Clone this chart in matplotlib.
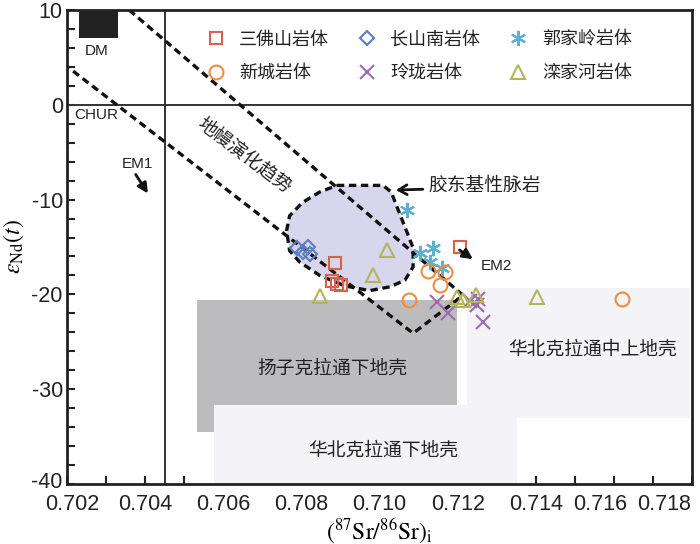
import matplotlib
matplotlib.use("Agg")
import matplotlib.pyplot as plt
from matplotlib.patches import Polygon, Rectangle
from matplotlib.transforms import ScaledTranslation

plt.rcParams['font.family'] = ['Liberation Sans', 'Noto Sans CJK SC', 'DejaVu Sans']
plt.rcParams['mathtext.fontset'] = 'stix'
plt.rcParams['axes.unicode_minus'] = False

# ---- sample data: (87Sr/86Sr)i and eNd(t) ----
sanfoshan_sr = [0.70886, 0.70878, 0.70891, 0.70901, 0.71206]
sanfoshan_nd = [-16.7, -18.6, -18.9, -19.0, -15.05]

changshannan_sr = [0.70790, 0.70816, 0.70821, 0.70803]
changshannan_nd = [-15.15, -15.05, -15.7, -15.55]

guojialing_sr = [0.71070, 0.71104, 0.71137, 0.71129, 0.71160]
guojialing_nd = [-11.05, -15.6, -15.15, -16.6, -17.25]

xincheng_sr = [0.71124, 0.71168, 0.71155, 0.71075, 0.71620]
xincheng_nd = [-17.5, -17.6, -19.05, -20.55, -20.45]

linglong_sr = [0.71147, 0.71176, 0.71232, 0.71253, 0.71250, 0.71265]
linglong_nd = [-20.75, -22.0, -20.65, -20.45, -21.15, -22.95]

luanjiahe_sr = [0.70847, 0.70983, 0.71019, 0.71199, 0.71214, 0.71247, 0.71404]
luanjiahe_nd = [-20.2, -18.0, -15.35, -20.3, -20.6, -20.1, -20.3]

# ---- reference fields ----
dike_sr = [0.70891, 0.71009, 0.71030, 0.71047, 0.71070, 0.71086, 0.71086,
           0.71065, 0.71027, 0.70975, 0.70911, 0.70847, 0.70796, 0.70770,
           0.70762, 0.70770, 0.70803, 0.70847]
dike_nd = [-8.5, -8.5, -9.2, -11.0, -13.4, -15.1, -17.1,
           -18.5, -19.2, -19.6, -19.1, -18.0, -16.6, -15.4,
           -13.3, -11.7, -10.3, -9.2]

mantle_sr = [0.70359, 0.71214, 0.71086, 0.70200]
mantle_nd = [10.0, -20.1, -24.1, 4.05]

dm_box = (0.7023, 0.7033, 7.0, 10.0)             # x0, x1, y0, y1
yangtze_lc = (0.70534, 0.71199, -34.55, -20.55)
ncc_lc = (0.70577, 0.71353, -40.0, -31.7)
ncc_muc = (0.71224, 0.71795, -33.0, -19.3)

chur_nd = 0.0
em1_sr = 0.7045

x_ticks = [0.702, 0.704, 0.706, 0.708, 0.710, 0.712, 0.714, 0.716, 0.718]
x_ticklabels = ['0.702', '0.704', '0.706', '0.708', '0.710', '0.712', '0.714', '0.716', '0.718']
y_ticks = [10, 0, -10, -20, -30, -40]

fig = plt.figure(figsize=(7.0, 5.44), dpi=100)
ax = fig.add_axes([0.0957, 0.1103, 0.8929, 0.8713])
ax.set_xlim(0.702, 0.718)
ax.set_ylim(-40, 10)

# crust fields
def box(b, color, z):
    x0, x1, y0, y1 = b
    ax.add_patch(Rectangle((x0, y0), x1 - x0, y1 - y0, facecolor=color,
                           edgecolor='none', zorder=z))

box(yangtze_lc, '#bcbcbe', 1)
box(ncc_lc, '#f3f3f8', 2)
box(ncc_muc, '#f3f3f8', 2)
box(dm_box, '#222222', 3)

# reference lines
ax.axhline(chur_nd, color='#333333', lw=1.4, zorder=3)
ax.axvline(em1_sr, color='#333333', lw=1.4, zorder=3)

# basic dike field
ax.add_patch(Polygon(list(zip(dike_sr, dike_nd)), closed=True,
                     facecolor='#d7d6ec', edgecolor='#111111', lw=2.4,
                     linestyle=(0, (2.2, 1.4)), zorder=4))

# mantle evolution trend
ax.plot(mantle_sr, mantle_nd, color='#111111', lw=2.4,
        linestyle=(0, (2.2, 1.4)), zorder=5)

# samples
mk = dict(linestyle='none', markerfacecolor='none', markersize=9,
          markeredgewidth=1.5, zorder=6)
h1, = ax.plot(sanfoshan_sr, sanfoshan_nd, marker='s', color='#d9604a', label='三佛山岩体', **mk)
h2, = ax.plot(changshannan_sr, changshannan_nd, marker='D', color='#5a7dbf', label='长山南岩体',
              **{**mk, 'markersize': 7.5})
h3, = ax.plot(guojialing_sr, guojialing_nd, marker=(6, 2, 0), color='#5bb0d0', label='郭家岭岩体',
              **{**mk, 'markersize': 11})
h4, = ax.plot(xincheng_sr, xincheng_nd, marker='o', color='#f28c3c', label='新城岩体',
              **{**mk, 'markersize': 10})
h5, = ax.plot(linglong_sr, linglong_nd, marker='x', color='#9d6cb0', label='玲珑岩体',
              **{**mk, 'markersize': 10})
h6, = ax.plot(luanjiahe_sr, luanjiahe_nd, marker='^', color='#b3b55a', label='滦家河岩体',
              **{**mk, 'markersize': 10})

leg = ax.legend(handles=[h1, h4, h2, h5, h3, h6], ncol=3, frameon=False,
                loc='upper left', bbox_to_anchor=(0.203, 0.985),
                fontsize=13, handlelength=0.8, handletextpad=0.9,
                columnspacing=1.7, labelspacing=0.9, borderpad=0.3)
for t in leg.get_texts():
    t.set_color('#222222')

# annotations
ax.text(0.70277, 5.7, 'DM', fontsize=11, ha='center', va='center', color='#222222', zorder=7)
ax.text(0.70274, -1.1, 'CHUR', fontsize=11, ha='center', va='center', color='#222222', zorder=7)
ax.text(0.70380, -6.2, 'EM1', fontsize=11, ha='center', va='center', color='#222222', zorder=7)
ax.annotate('', xy=(0.70411, -9.6), xytext=(0.70372, -7.1),
            arrowprops=dict(arrowstyle='-|>,head_length=0.6,head_width=0.3',
                            color='#111111', lw=2.0), zorder=7)
ax.text(0.7126, -17.0, 'EM2', fontsize=11, ha='left', va='center', color='#222222', zorder=7)
ax.annotate('', xy=(0.71245, -16.45), xytext=(0.71199, -15.15),
            arrowprops=dict(arrowstyle='-|>,head_length=0.6,head_width=0.3',
                            color='#111111', lw=2.0), zorder=7)
ax.text(0.71125, -8.6, '胶东基性脉岩', fontsize=13.5, ha='left', va='center', color='#222222', zorder=7)
ax.annotate('', xy=(0.71035, -9.0), xytext=(0.71118, -8.9),
            arrowprops=dict(arrowstyle='->,head_length=0.6,head_width=0.35',
                            color='#111111', lw=2.0), zorder=7)
ax.text(0.70654, -5.35, '地幔演化趋势', fontsize=13.5, rotation=-37, ha='center', va='center',
        rotation_mode='anchor', color='#222222', zorder=7)
ax.text(0.70878, -27.9, '扬子克拉通下地壳', fontsize=13.5, ha='center', va='center', color='#222222', zorder=7)
ax.text(0.71545, -25.9, '华北克拉通中上地壳', fontsize=13.5, ha='center', va='center', color='#222222', zorder=7)
ax.text(0.71009, -36.5, '华北克拉通下地壳', fontsize=13.5, ha='center', va='center', color='#222222', zorder=7)

# axes styling
for s in ax.spines.values():
    s.set_linewidth(2.0)
    s.set_color('#222222')
    s.set_zorder(8)
ax.set_xticks(x_ticks)
ax.set_xticklabels(x_ticklabels)
ax.set_xticks([0.703, 0.705, 0.707, 0.709, 0.711, 0.713, 0.715, 0.717], minor=True)
ax.set_yticks(y_ticks)
ax.set_yticks(list(range(-38, 10, 2)), minor=True)
ax.tick_params(which='both', direction='in', length=6, width=1.5, color='#222222',
               top=False, right=False, labelsize=15.5, labelcolor='#222222')
ax.tick_params(axis='x', pad=7)
ax.tick_params(axis='y', pad=3)

# nudge the corner labels apart and keep the last x labels inside the canvas
x_shifts = {'0.702': 4 / 72, '0.716': -10 / 72, '0.718': -20 / 72}
for lab in ax.get_xticklabels():
    dx = x_shifts.get(lab.get_text())
    if dx:
        lab.set_transform(lab.get_transform() + ScaledTranslation(dx, 0, fig.dpi_scale_trans))
for lab in ax.get_yticklabels():
    if lab.get_text() == '-40':
        lab.set_transform(lab.get_transform() + ScaledTranslation(0, 3 / 72, fig.dpi_scale_trans))

ax.set_xlabel(r'$(^{87}\mathrm{Sr}/^{86}\mathrm{Sr})_{\mathrm{i}}$', fontsize=17, labelpad=1)
ax.set_ylabel(r'$\varepsilon_{\mathrm{Nd}}(t)$', fontsize=17)
ax.yaxis.set_label_coords(-0.066, 0.5)

fig.savefig('out.png', dpi=100)
